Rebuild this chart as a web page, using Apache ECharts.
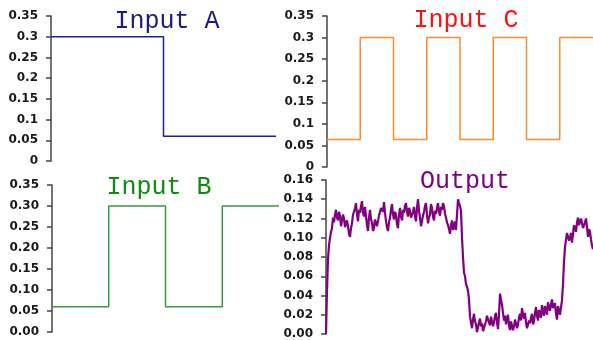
<!DOCTYPE html>
<html><head><meta charset="utf-8">
<script src="https://cdn.jsdelivr.net/npm/echarts@6/dist/echarts.min.js"></script>
<style>html,body{margin:0;padding:0;background:#fff}#c{width:593px;height:340px}</style>
</head><body><div id="c"></div>
<script>
// ---- data ----
var titles = ['Input A', 'Input C', 'Input B', 'Output'];
// square-wave inputs: switching times (0..100) and levels
var inputATime = [0, 50, 100];
var inputAVal  = [0.30, 0.06, 0.06];
var inputCTime = [0, 12.5, 25, 37.5, 50, 62.5, 75, 87.5, 100];
var inputCVal  = [0.064, 0.30, 0.064, 0.30, 0.064, 0.30, 0.064, 0.30, 0.30];
var inputBTime = [0, 25, 50, 75, 100];
var inputBVal  = [0.06, 0.30, 0.06, 0.30, 0.30];
// output: one noisy measured value per sample (sample index = time)
var outVal = [
0.000,0.045,0.078,0.092,0.100,0.106,0.110,0.121,0.116,0.124,0.129,0.121,0.118,0.127,0.123,0.112,0.114,0.124,0.120,0.111,
0.109,0.118,0.112,0.104,0.101,0.110,0.115,0.124,0.127,0.131,0.136,0.124,0.117,0.129,0.126,0.133,0.138,0.126,0.122,0.132,
0.130,0.113,0.107,0.121,0.129,0.119,0.116,0.107,0.110,0.119,0.121,0.112,0.114,0.123,0.125,0.131,0.133,0.127,0.137,0.126,
0.117,0.111,0.107,0.116,0.121,0.129,0.135,0.124,0.119,0.127,0.124,0.114,0.110,0.124,0.131,0.122,0.118,0.129,0.126,0.133,
0.136,0.127,0.122,0.131,0.128,0.121,0.119,0.127,0.132,0.122,0.117,0.131,0.140,0.128,0.121,0.112,0.114,0.123,0.127,0.133,
0.136,0.124,0.115,0.121,0.124,0.135,0.131,0.122,0.118,0.128,0.125,0.131,0.136,0.127,0.123,0.132,0.129,0.136,0.133,0.125,
0.121,0.116,0.113,0.109,0.104,0.113,0.118,0.108,0.112,0.117,0.108,0.124,0.140,0.136,0.133,0.128,0.100,0.080,0.064,0.060,
0.052,0.049,0.045,0.036,0.018,0.012,0.006,0.015,0.021,0.013,0.010,0.002,0.004,0.012,0.016,0.008,0.011,0.003,0.002,0.010,
0.013,0.019,0.021,0.012,0.009,0.018,0.017,0.008,0.012,0.019,0.022,0.012,0.005,0.020,0.042,0.036,0.030,0.022,0.014,0.019,
0.010,0.016,0.020,0.009,0.004,0.013,0.012,0.004,0.008,0.015,0.014,0.006,0.010,0.017,0.021,0.014,0.027,0.020,0.016,0.022,
0.012,0.006,0.005,0.014,0.011,0.017,0.021,0.010,0.013,0.022,0.028,0.019,0.014,0.025,0.024,0.017,0.030,0.023,0.019,0.029,
0.027,0.020,0.033,0.028,0.024,0.031,0.036,0.027,0.025,0.032,0.021,0.015,0.029,0.024,0.020,0.028,0.035,0.052,0.075,0.090,
0.098,0.105,0.107,0.097,0.100,0.105,0.095,0.104,0.113,0.110,0.106,0.116,0.121,0.113,0.112,0.120,0.118,0.110,0.108,0.116,
0.120,0.111,0.101,0.109,0.106,0.098,0.092,0.088];
// y-axis tick labels
var ticksA = ['0','0.05','0.1','0.15','0.2','0.25','0.3','0.35'];
var ticksC = ['0','0.05','0.1','0.15','0.2','0.25','0.3','0.35'];
var ticksB = ['0.00','0.05','0.10','0.15','0.20','0.25','0.30','0.35'];
var ticksOut = ['0.00','0.02','0.04','0.06','0.08','0.10','0.12','0.14','0.16'];

function pairs(t, v) { return t.map(function (x, i) { return [x, v[i]]; }); }

var grids = [
  {left: 51, top: 16, width: 225, height: 145},
  {left: 327, top: 16, width: 266, height: 151},
  {left: 52, top: 185, width: 227, height: 147},
  {left: 326, top: 180, width: 267, height: 154}
];
var yCfg = [
  {max: 0.35, interval: 0.05, ticks: ticksA},
  {max: 0.35, interval: 0.05, ticks: ticksC},
  {max: 0.35, interval: 0.05, ticks: ticksB},
  {max: 0.16, interval: 0.02, ticks: ticksOut}
];
var xMax = [100, 100, 100, outVal.length - 1];
var titleColors = ['#1c1c80', '#ff1010', '#108a10', '#800080'];
var lineColors = ['#1e1ea0', '#ff8a2a', '#3a9a3a', '#800080'];
var titlePos = [[167, 21], [466, 20], [159, 187], [465, 181]];
var seriesData = [
  pairs(inputATime, inputAVal),
  pairs(inputCTime, inputCVal),
  pairs(inputBTime, inputBVal),
  outVal.map(function (v, i) { return [i, v]; })
];

var option = {
  animation: false,
  grid: grids.map(function (g) { return Object.assign({containLabel: false}, g); }),
  xAxis: grids.map(function (g, i) {
    return {type: 'value', gridIndex: i, min: 0, max: xMax[i], show: false};
  }),
  yAxis: yCfg.map(function (c, i) {
    return {
      type: 'value', gridIndex: i, min: 0, max: c.max, interval: c.interval,
      axisLine: {show: true, lineStyle: {color: '#444', width: 1.5}},
      axisTick: {show: true, length: 5, lineStyle: {color: '#444', width: 1.5}},
      splitLine: {show: false},
      axisLabel: {
        margin: 13, color: '#1a1a1a', fontFamily: 'DejaVu Sans', fontWeight: 'bold', fontSize: 12,
        formatter: function (v) { return c.ticks[Math.round(v / c.interval)]; }
      }
    };
  }),
  series: seriesData.map(function (d, i) {
    return {
      type: 'line', xAxisIndex: i, yAxisIndex: i, data: d,
      step: i < 3 ? 'end' : false, symbol: 'none',
      lineStyle: {color: lineColors[i], width: i < 3 ? 1.5 : 2.2}
    };
  }),
  graphic: titles.map(function (t, i) {
    return {
      type: 'text', x: titlePos[i][0], y: titlePos[i][1],
      style: {text: t, fill: titleColors[i], font: '25px "Liberation Mono"', textAlign: 'center', textVerticalAlign: 'middle'}
    };
  })
};
var chart = echarts.init(document.getElementById('c'));
chart.setOption(option);
</script></body></html>
